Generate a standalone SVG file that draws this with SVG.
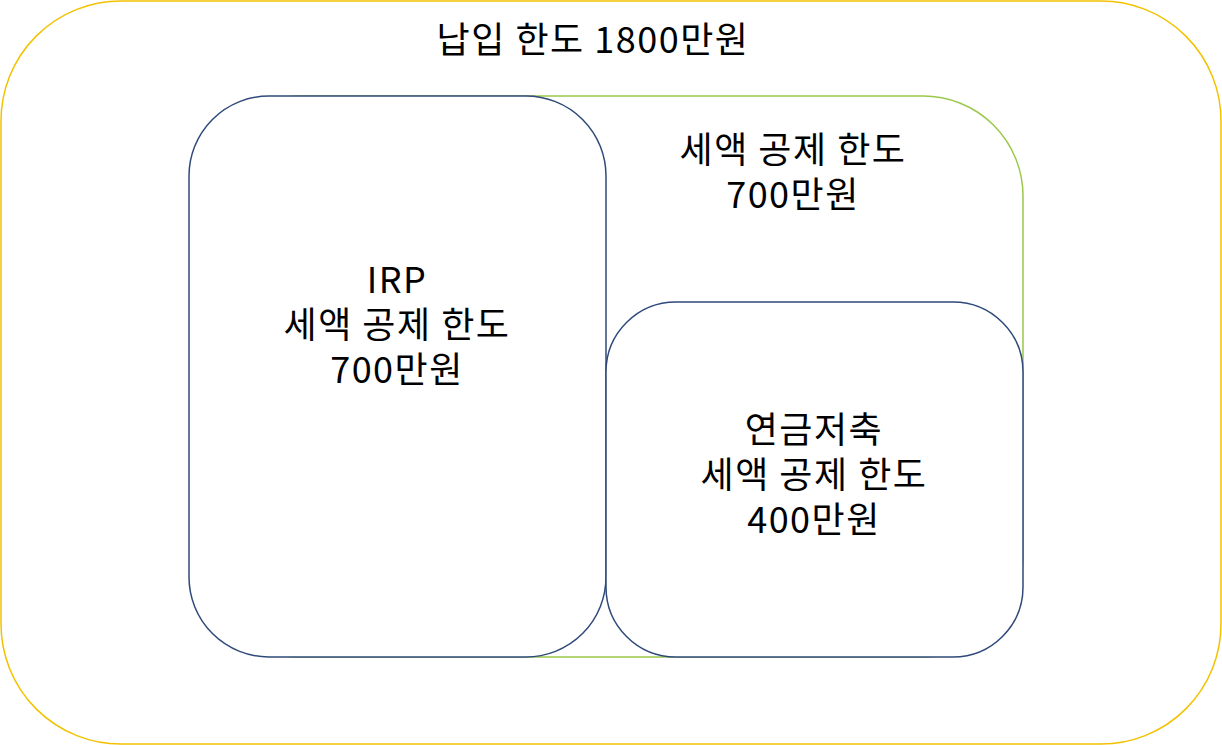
<svg xmlns="http://www.w3.org/2000/svg" width="1222" height="745" viewBox="0 0 1222 745">
<style>
text{font-family:"Noto Sans CJK KR","Noto Sans",sans-serif;font-size:36px;letter-spacing:1.5px;fill:#000;text-anchor:middle}
.b{fill:#fff;stroke:#2F4A7A;stroke-width:1.5}
</style>
<rect width="1222" height="745" fill="#fff"/>
<g id="outer"><rect x="1" y="1" width="1220" height="743" rx="120" fill="#fff" stroke="#F2C200" stroke-width="1.5"/>
<text x="593" y="53">납입 한도 1800만원</text></g>
<g id="total"><rect x="200" y="96" width="823" height="561" rx="100" fill="#fff" stroke="#9BC84A" stroke-width="1.5"/>
<text x="793" y="163">세액 공제 한도</text><text x="793" y="208">700만원</text></g>
<g id="irp"><rect class="b" x="189" y="96" width="417" height="561" rx="80"/>
<text x="397" y="293">IRP</text><text x="397" y="338">세액 공제 한도</text><text x="397" y="383">700만원</text></g>
<g id="pension"><rect class="b" x="606" y="302" width="417" height="355" rx="70"/>
<text x="814" y="443">연금저축</text><text x="814" y="488">세액 공제 한도</text><text x="814" y="533">400만원</text></g>
<g id="connectors"></g>
</svg>
